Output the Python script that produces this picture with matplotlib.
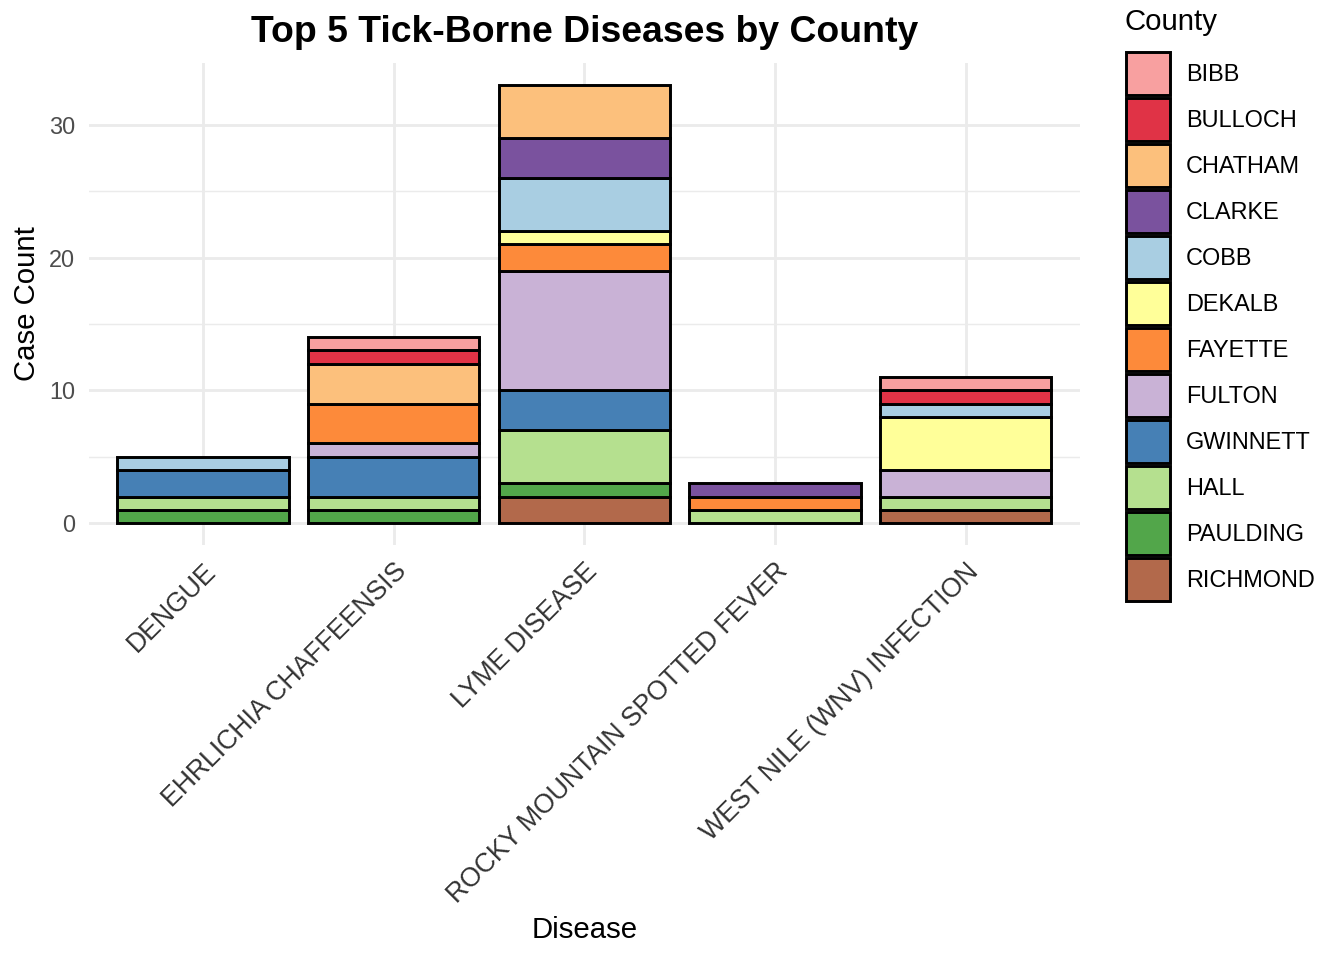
import numpy as np
import matplotlib.pyplot as plt
from matplotlib.patches import Patch

plt.rcParams['font.family'] = ['Liberation Sans', 'DejaVu Sans']

diseases = ['DENGUE', 'EHRLICHIA CHAFFEENSIS', 'LYME DISEASE',
            'ROCKY MOUNTAIN SPOTTED FEVER', 'WEST NILE (WNV) INFECTION']
counties = ['BIBB', 'BULLOCH', 'CHATHAM', 'CLARKE', 'COBB', 'DEKALB',
            'FAYETTE', 'FULTON', 'GWINNETT', 'HALL', 'PAULDING', 'RICHMOND']

# cases per county, one value per disease (same order as diseases)
bibb = [0, 1, 0, 0, 1]
bulloch = [0, 1, 0, 0, 1]
chatham = [0, 3, 4, 0, 0]
clarke = [0, 0, 3, 1, 0]
cobb = [1, 0, 4, 0, 1]
dekalb = [0, 0, 1, 0, 4]
fayette = [0, 3, 2, 1, 0]
fulton = [0, 1, 9, 0, 2]
gwinnett = [2, 3, 3, 0, 0]
hall = [1, 1, 4, 1, 1]
paulding = [1, 1, 1, 0, 0]
richmond = [0, 0, 2, 0, 1]

counts = [bibb, bulloch, chatham, clarke, cobb, dekalb,
          fayette, fulton, gwinnett, hall, paulding, richmond]

colors = ['#F8A0A0', '#E03346', '#FCC07C', '#7A529E', '#A9CEE2', '#FFFF99',
          '#FD8A3A', '#C9B2D6', '#4680B5', '#B5E08F', '#52A64A', '#B2694B']

fig = plt.figure(figsize=(7, 5), dpi=192)
ax = fig.add_axes([88.6 / 1344, 1 - 545 / 960, (1080 - 88.6) / 1344, (545 - 63) / 960])

x = np.arange(len(diseases))
bottom = np.zeros(len(diseases))
# ggplot stacks the last level at the bottom
for name, vals, col in reversed(list(zip(counties, counts, colors))):
    vals = np.array(vals, dtype=float)
    m = vals > 0
    ax.bar(x[m], vals[m], bottom=bottom[m], width=0.9, color=col,
           edgecolor='black', linewidth=1.1, zorder=3)
    bottom += vals

ax.set_xlim(-0.6, len(diseases) - 0.4)
ax.set_ylim(-1.65, 34.65)
ax.set_yticks([0, 10, 20, 30])
ax.set_yticks([5, 15, 25], minor=True)
ax.set_xticks(x)
ax.set_xticklabels(diseases, rotation=45, ha='right', va='top',
                   rotation_mode='anchor')
ax.grid(which='major', color='#EBEBEB', linewidth=1.07, zorder=0)
ax.grid(which='minor', axis='y', color='#EBEBEB', linewidth=0.53, zorder=0)
ax.tick_params(which='both', length=0)
ax.tick_params(axis='y', labelsize=8.8, labelcolor='#4D4D4D', pad=5)
ax.tick_params(axis='x', labelsize=10, labelcolor='#333333', pad=5)
for s in ax.spines.values():
    s.set_visible(False)

ax.set_xlabel('Disease', fontsize=11, va='center')
ax.set_ylabel('Case Count', fontsize=11, va='center')
ax.xaxis.set_label_coords(0.5, (545 - 930) / 482)
ax.yaxis.set_label_coords((27 - 88.6) / 991.4, 0.5)
ax.set_title('Top 5 Tick-Borne Diseases by County', fontsize=14,
             fontweight='bold', pad=8)

fig.text(1125 / 1344, 1 - 22 / 960, 'County', fontsize=11, va='center', ha='left')
handles = [Patch(facecolor=c, edgecolor='black', linewidth=1.1) for c in colors]
fig.legend(handles, counties, loc='upper left',
           bbox_to_anchor=(1126 / 1344, 1 - 52 / 960), frameon=False,
           fontsize=8.8, handlelength=1.87, handleheight=2.44,
           labelspacing=0.13, handletextpad=0.68, borderpad=0, borderaxespad=0)

fig.savefig('out.png', dpi=192)
